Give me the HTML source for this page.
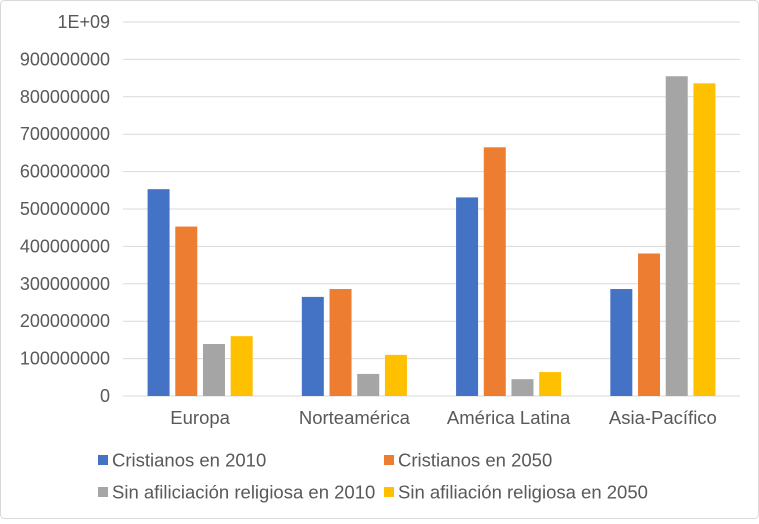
<!DOCTYPE html>
<html><head><meta charset="utf-8"><style>
body{margin:0;background:#fff;font-family:"Liberation Sans",Arial,sans-serif;}
#wrap{position:relative;width:759px;height:519px;}
svg text{font-family:"Liberation Sans",Arial,sans-serif;fill:#595959;font-size:18.5px;}
svg text.tick{font-size:18px;}
</style></head><body>
<div id="wrap">
<svg id="svg" width="759" height="519">
<rect x="0.5" y="0.5" width="758" height="518" rx="4" fill="#fff" stroke="#d9d9d9"/>
<g id="grid"></g><g id="bars"></g><g id="labels"></g><g id="legend"></g>
</svg>
</div>
<script>
const categories=["Europa","Norteamérica","América Latina","Asia-Pacífico"];
const seriesNames=["Cristianos en 2010","Cristianos en 2050","Sin afiliciación religiosa en 2010","Sin afiliación religiosa en 2050"];
const cristianos2010=[553e6,265e6,531e6,286e6];
const cristianos2050=[453e6,286e6,665e6,381e6];
const sinAfil2010=[139e6,59e6,45e6,855e6];
const sinAfil2050=[160e6,110e6,64e6,836e6];
const tickValues=[0,1e8,2e8,3e8,4e8,5e8,6e8,7e8,8e8,9e8,1e9];
const tickLabels=["0","100000000","200000000","300000000","400000000","500000000","600000000","700000000","800000000","900000000","1E+09"];
const colors=["#4472c4","#ed7d31","#a5a5a5","#ffc000"];
const series=[cristianos2010,cristianos2050,sinAfil2010,sinAfil2050];
const NS="http://www.w3.org/2000/svg";
const x0=123,x1=740,y0=396,yTop=22;
const y=v=>y0-(v/1e9)*(y0-yTop);
const groupW=(x1-x0)/categories.length;
const barW=22,barStep=27.7;
function mk(tag,attrs,parent){const e=document.createElementNS(NS,tag);for(const k in attrs)e.setAttribute(k,attrs[k]);parent.appendChild(e);return e;}
const grid=document.getElementById('grid'),bars=document.getElementById('bars'),labels=document.getElementById('labels'),legend=document.getElementById('legend');
tickValues.forEach((v,i)=>{
 const l=mk('line',{x1:x0,x2:x1,y1:y(v),y2:y(v),stroke:'#d9d9d9','stroke-width':1},grid);
 
 
 const t=mk('text',{x:110,y:y(v)+6,'text-anchor':'end','class':'tick'},labels);t.textContent=tickLabels[i];
 
 
});
categories.forEach((c,ci)=>{
 const cx=x0+groupW*(ci+0.5);
 series.forEach((s,si)=>{
  const bx=cx-2*barStep+si*barStep+(barStep-barW)/2;
  const r=mk('rect',{x:bx,y:y(s[ci]),width:barW,height:y0-y(s[ci]),fill:colors[si]},bars);
  
  
 });
 const t=mk('text',{x:cx,y:424,'text-anchor':'middle'},labels);t.textContent=c;
 
 
});
const lpos=[[98,460],[384,460],[98,492],[384,492]];
seriesNames.forEach((n,i)=>{
 const [lx,ly]=lpos[i];
 const r=mk('rect',{x:lx,y:ly-5,width:10,height:10,fill:colors[i]},legend);
 
 
 const t=mk('text',{x:lx+14,y:ly+6.5},legend);t.textContent=n;
 
 
});
</script>
</body></html>
